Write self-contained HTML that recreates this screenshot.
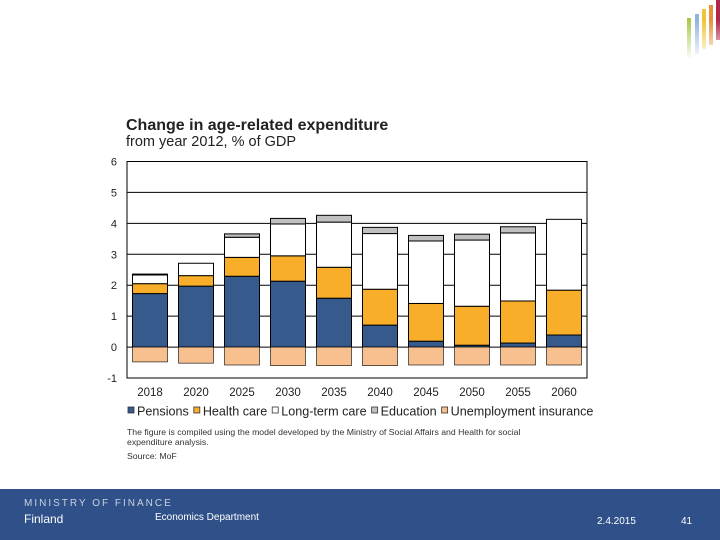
<!DOCTYPE html>
<html><head><meta charset="utf-8"><style>
body{margin:0;width:720px;height:540px;position:relative;background:#fff;font-family:"Liberation Sans",sans-serif;overflow:hidden}
.t{position:absolute;white-space:nowrap}
</style></head><body>
<div class="t" style="left:126px;top:117px;font-size:16px;font-weight:bold;color:#222">Change in age-related expenditure</div>
<div class="t" style="left:126px;top:134px;font-size:14.5px;color:#222">from year 2012, % of GDP</div>
<svg id="chart" width="720" height="540" style="position:absolute;left:0;top:0"></svg>
<div class="t" style="left:127px;top:427px;font-size:8.7px;color:#333;line-height:10px">The figure is compiled using the model developed by the Ministry of Social Affairs and Health for social<br>expenditure analysis.</div>
<div class="t" style="left:127px;top:451px;font-size:8.7px;color:#333">Source: MoF</div>
<div style="position:absolute;left:0;top:489px;width:720px;height:51px;background:#2f5088"></div>
<div class="t" style="left:24px;top:498px;font-size:10px;letter-spacing:2px;color:#c8d2e4">MINISTRY OF FINANCE</div>
<div class="t" style="left:24px;top:512px;font-size:12px;color:#fff">Finland</div>
<div class="t" style="left:155px;top:512px;font-size:10px;color:#fff">Economics Department</div>
<div class="t" style="left:597px;top:516px;font-size:10px;color:#fff">2.4.2015</div>
<div class="t" style="left:681px;top:516px;font-size:10px;color:#fff">41</div>
<svg width="40" height="60" style="position:absolute;left:680px;top:0">
<defs><linearGradient id="f" x1="0" y1="0" x2="0" y2="1"><stop offset="0" stop-color="#fff" stop-opacity="0"/><stop offset="1" stop-color="#fff" stop-opacity="1"/></linearGradient></defs>
<rect x="7" y="18" width="4" height="40" fill="#a6c94a"/><rect x="15" y="14" width="4" height="40" fill="#8fb4dc"/><rect x="22" y="9" width="4" height="40" fill="#f2c33a"/><rect x="29" y="5" width="4" height="40" fill="#e9903a"/><rect x="36" y="0" width="4" height="40" fill="#b0284a"/>
<rect x="0" y="20" width="40" height="40" fill="url(#f)"/></svg>
<script>
const categories=["2018","2020","2025","2030","2035","2040","2045","2050","2055","2060"];
const pensions=[1.73,1.97,2.29,2.13,1.58,0.71,0.19,0.06,0.13,0.39];
const healthCare=[0.32,0.34,0.61,0.82,1.0,1.16,1.22,1.26,1.36,1.45];
const longTermCare=[0.28,0.40,0.65,1.03,1.46,1.80,2.02,2.14,2.20,2.29];
const education=[0.03,0,0.11,0.18,0.22,0.20,0.18,0.19,0.20,0];
const unemployment=[-0.48,-0.52,-0.58,-0.60,-0.60,-0.60,-0.58,-0.58,-0.58,-0.58];
const yTicks=[-1,0,1,2,3,4,5,6];
const series=[["Pensions",pensions,"#365a8c"],["Health care",healthCare,"#f9ae2a"],["Long-term care",longTermCare,"#ffffff"],["Education",education,"#c0c0c0"],["Unemployment insurance",unemployment,"#f9c08f"]];
const svg=document.getElementById('chart');const NS='http://www.w3.org/2000/svg';
const X0=127,X1=587,Y6=161.5,YM1=378;
const y=v=>Y6+(6-v)*(YM1-Y6)/7;
const band=(X1-X0)/categories.length;
const x=i=>X0+i*band+5.5;
const bw=35;
function el(t,a){const e=document.createElementNS(NS,t);for(const k in a)e.setAttribute(k,a[k]);svg.appendChild(e);return e;}
let r=el('rect',{x:X0,y:y(6),width:X1-X0,height:y(-1)-y(6),fill:'none',stroke:'#000','stroke-width':1});


yTicks.forEach(v=>{
 if(v>-1&&v<6){const g=el('line',{x1:X0,x2:X1,y1:y(v),y2:y(v),stroke:'#000','stroke-width':1});
 
 }
 const t=el('text',{x:117,y:y(v)+4,'font-size':11,'text-anchor':'end',fill:'#222','font-family':'Liberation Sans, sans-serif'});t.textContent=v;
 
 
});
categories.forEach((c,i)=>{
 let pos=0;
 series.forEach(([n,vals,col])=>{
  const v=vals[i];if(v===0)return;
  let top,bot;
  if(v<0){top=0;bot=v;}else{bot=pos;top=pos+v;pos=top;}
  const b=el('rect',{x:x(i),y:y(top),width:bw,height:y(bot)-y(top),fill:col,stroke:'#000','stroke-width':n==="Unemployment insurance"?0.6:1});
  
  
 });
 const t=el('text',{x:x(i)+bw/2,y:396,'font-size':11.5,'text-anchor':'middle',fill:'#222','font-family':'Liberation Sans, sans-serif'});t.textContent=c;
 
 
});
let lx=127;
series.forEach(([n,v,col])=>{
 const s=el('rect',{x:lx+1,y:407,width:6,height:6,fill:col,stroke:'#333','stroke-width':0.8});
 
 
 const t=el('text',{x:lx+10,y:415.5,'font-size':12.6,fill:'#222','font-family':'Liberation Sans, sans-serif'});t.textContent=n;
 
 
 lx+=10+t.getComputedTextLength()+4;
});
</script>
</body></html>
